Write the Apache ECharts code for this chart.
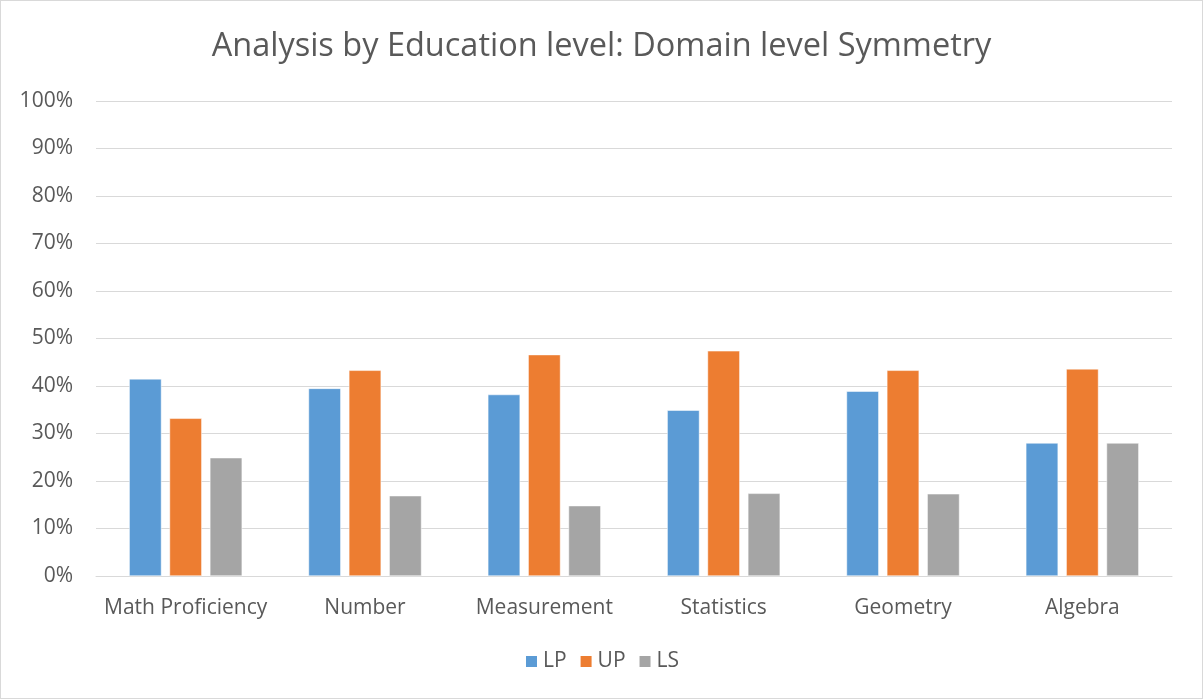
<!DOCTYPE html>
<html lang="en">

<head>
    <meta charset="UTF-8">
    <title>Domain level Symmetry</title>
    <style>
        html, body { margin: 0; padding: 0; background: #fff; }
        #main { width: 1201px; height: 697px; border: 1px solid #d9d9d9; }
    </style>
</head>

<body>
    <div id="main"></div>
    <script src="https://cdn.jsdelivr.net/npm/echarts@6/dist/echarts.min.js"></script>
    <script>
        var categories = ['Math Proficiency', 'Number', 'Measurement', 'Statistics', 'Geometry', 'Algebra'];
        var lp = [41.5, 39.5, 38.2, 34.9, 38.9, 28.0];
        var up = [33.2, 43.3, 46.6, 47.4, 43.3, 43.6];
        var ls = [24.9, 16.9, 14.8, 17.4, 17.3, 28.0];

        var myChart = echarts.init(document.getElementById('main'));
        var font = '"Open Sans", sans-serif';

        function bar(name, data, color) {
            return {
                name: name,
                type: 'bar',
                data: data,
                barGap: '25%',
                barCategoryGap: '37%',
                itemStyle: { color: color, borderColor: '#fff', borderWidth: 0.5 }
            };
        }

        option = {
            animation: false,
            color: ['#5b9bd5', '#ed7d31', '#a5a5a5'],
            title: {
                text: 'Analysis by Education level: Domain level Symmetry',
                left: 'center',
                top: 24,
                textStyle: { fontFamily: font, fontSize: 32.5, fontWeight: 'normal', color: '#595959' }
            },
            grid: { left: 95, right: 30, top: 100, bottom: 122 },
            legend: {
                bottom: 21,
                itemWidth: 13,
                itemHeight: 13,
                itemGap: 12,
                icon: 'rect',
                textStyle: { fontFamily: font, fontSize: 21, color: '#595959' }
            },
            xAxis: {
                type: 'category',
                data: categories,
                axisLine: { lineStyle: { color: '#d9d9d9', width: 1 } },
                axisTick: { show: false },
                axisLabel: { interval: 0, fontFamily: font, fontSize: 21, color: '#595959', margin: 22 }
            },
            yAxis: {
                type: 'value',
                min: 0,
                max: 100,
                interval: 10,
                axisLine: { show: false },
                axisTick: { show: false },
                splitLine: { lineStyle: { color: '#d9d9d9', width: 1 } },
                axisLabel: { fontFamily: font, fontSize: 21, color: '#595959', margin: 23, formatter: '{value}%' }
            },
            series: [bar('LP', lp, '#5b9bd5'), bar('UP', up, '#ed7d31'), bar('LS', ls, '#a5a5a5')]
        };
        myChart.setOption(option);
    </script>
</body>

</html>
